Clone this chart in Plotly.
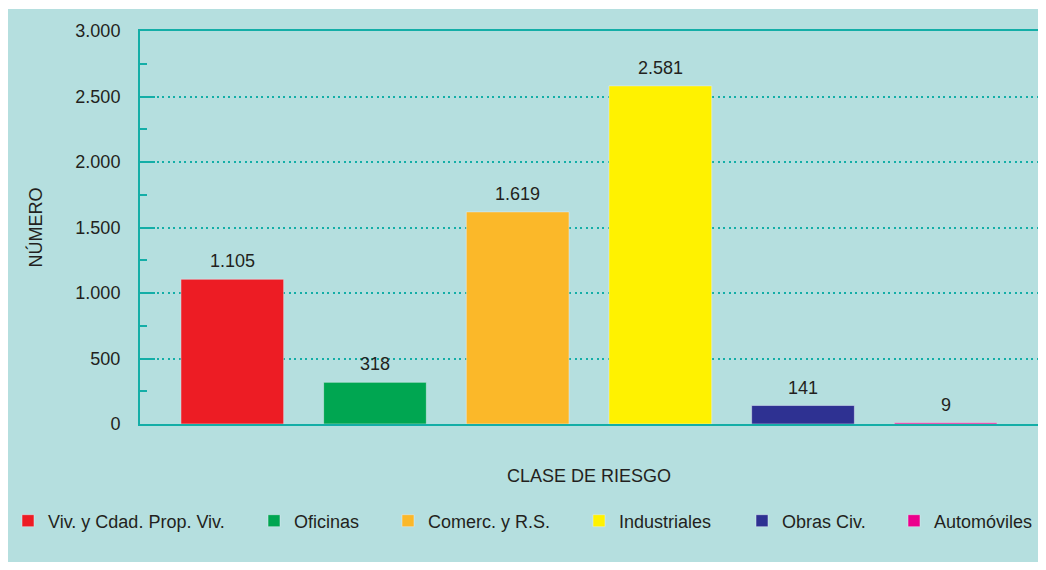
import plotly.graph_objects as go

categories = ["Viv. y Cdad. Prop. Viv.", "Oficinas", "Comerc. y R.S.", "Industriales", "Obras Civ.", "Automóviles"]
values = [1105, 318, 1619, 2581, 141, 9]
colors = ["#ed1c24", "#00a651", "#fbb829", "#fff200", "#2e3192", "#ec008c"]
y_tickvals = [0, 500, 1000, 1500, 2000, 2500, 3000]
y_ticktext = ["0", "500", "1.000", "1.500", "2.000", "2.500", "3.000"]

BG = "#b5dfdf"
TEAL = "#14aea7"
TXT = "#231f20"
FONT = "Liberation Sans, Arial, Helvetica, sans-serif"

OFF = 8  # page body margin
W, H = 1046 - OFF, 570 - 2 * OFF
# plot area in page pixels
L, R, T, B = 140 - OFF, 1038 - OFF, 31 - OFF, 424 - OFF
PW, PH = R - L, B - T

def px_x(p):
    return (p - OFF - L) / PW

def px_y(p):
    return (B - (p - OFF)) / PH

fig = go.Figure()
legend_px = [8, 254, 388, 579, 742, 894]
for i, (c, v, col) in enumerate(zip(categories, values, colors)):
    lg = "legend" if i == 0 else f"legend{i+1}"
    fig.add_trace(go.Bar(
        x=[c], y=[v], name=c, marker_color=col, width=0.72,
        legend=lg, showlegend=True,
    ))
    fig.add_annotation(
        x=c, y=v, text=f"{v:,}".replace(",", "."), showarrow=False,
        yanchor="middle", yshift=18, font=dict(size=18, color=TXT, family=FONT),
    )

legends = {}
for i, lx in enumerate(legend_px):
    key = "legend" if i == 0 else f"legend{i+1}"
    legends[key] = dict(
        x=px_x(lx), y=px_y(521), xanchor="left", yanchor="middle",
        orientation="h", bgcolor="rgba(0,0,0,0)", borderwidth=0,
        font=dict(size=18, color=TXT, family=FONT),
    )

fig.update_layout(
    width=W, height=H,
    margin=dict(l=L, r=W - R, t=T, b=H - B, autoexpand=False),
    paper_bgcolor="white",
    plot_bgcolor=BG,
    barmode="overlay",
    font=dict(family=FONT, size=18, color=TXT),
    separators=",.",
    shapes=[dict(
        type="rect", xref="paper", yref="paper", layer="below",
        x0=px_x(0), x1=px_x(1060), y0=px_y(600), y1=px_y(9),
        fillcolor=BG, line=dict(width=0),
    )],
    xaxis=dict(
        type="category", categoryorder="array", categoryarray=categories,
        range=[-0.647, 5.647], showticklabels=False, ticks="",
        showgrid=False, zeroline=False, automargin=False,
        showline=True, linecolor=TEAL, linewidth=2, mirror=True,
        title=dict(text="CLASE DE RIESGO", standoff=44,
                   font=dict(size=18, color=TXT, family=FONT)),
    ),
    yaxis=dict(
        range=[0, 3000], tickvals=y_tickvals, ticktext=y_ticktext,
        ticks="inside", ticklen=15, tickwidth=1.5, tickcolor=TEAL,
        ticklabelstandoff=14, automargin=False,
        minor=dict(dtick=250, ticks="inside", ticklen=7, tickwidth=1.5,
                   tickcolor=TEAL, showgrid=False),
        showgrid=True, gridcolor=TEAL, gridwidth=1.5, griddash="2px,3.5px",
        zeroline=False,
        showline=True, linecolor=TEAL, linewidth=2, mirror=True,
        tickfont=dict(size=18, color=TXT, family=FONT),
        title=dict(text="NÚMERO", standoff=28,
                   font=dict(size=18, color=TXT, family=FONT)),
    ),
    **legends,
)

fig.write_html("out.html")
